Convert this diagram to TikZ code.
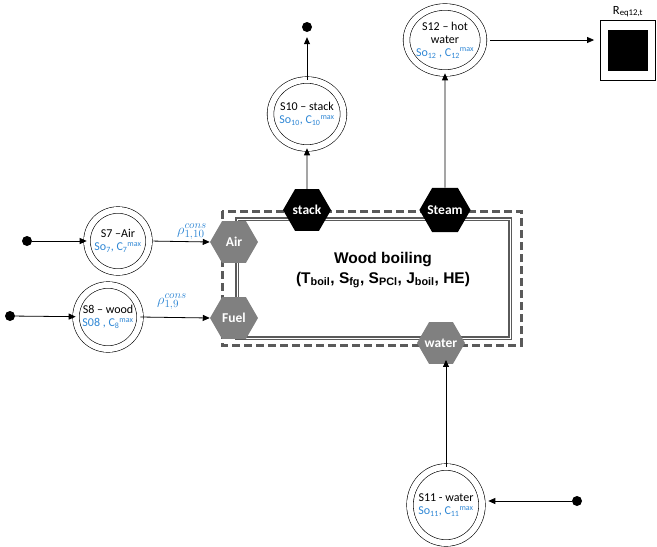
\documentclass[tikz,border=0pt]{standalone}
\usepackage{fontspec}
\setmainfont{Carlito}
\newfontfamily\boilfont{Liberation Sans}
\usetikzlibrary{shapes.geometric,arrows.meta,positioning}
\definecolor{soblue}{RGB}{46,134,212}
\definecolor{hexgray}{RGB}{128,128,128}
\definecolor{framegray}{RGB}{90,90,90}

\begin{document}
\begin{tikzpicture}[x=1pt,y=-1pt,
  stock/.style={ellipse, draw, double, double distance=6pt, line width=0.6pt, inner sep=0pt},
  stocktext/.style={align=center, inner sep=0pt, font=\fontsize{12}{13}\selectfont},
  hexa/.style={regular polygon, regular polygon sides=6, minimum size=48pt, inner sep=-2pt, text=white, font=\bfseries\fontsize{13.5}{14}\selectfont},
  hexGray/.style={hexa, fill=hexgray},
  hexBlack/.style={hexa, fill=black},
  src/.style={circle, fill=black, inner sep=0pt, minimum size=10pt},
  flow/.style={draw, line width=0.8pt, -{Triangle[length=7pt,width=6pt]}},
  rate/.style={text=soblue, inner sep=0pt, font=\fontsize{15}{15}\selectfont}
  ]
  \useasboundingbox (0,0) rectangle (657,547);

  % boiler frame
  \draw[framegray, line width=3pt, dash pattern=on 8pt off 4pt] (222,211) rectangle (521,345);
  \draw[framegray, line width=1.3pt, double=white, double distance=1pt] (237,219) rectangle (510,338);
  \node[font=\boilfont\bfseries\fontsize{15.5}{20}\selectfont, align=center] (boil) at (383,270)
    {Wood boiling\\(T\textsubscript{boil}, S\textsubscript{fg}, S\textsubscript{PCl}, J\textsubscript{boil}, HE)};

  % ports
  \node[hexGray] (air) at (234,242) {Air};
  \node[hexGray] (fuel) at (234,318) {Fuel};
  \node[hexBlack] (stack) at (307,210) {stack};
  \node[hexBlack] (steam) at (445,210) {Steam};
  \node[hexGray] (water) at (441,343) {water};

  % stocks
  \node[stock, minimum width=62pt, minimum height=62pt] (s7) at (118,241) {};
  \node[stocktext] at (s7) {S7 –Air\\\textcolor{soblue}{So\textsubscript{7}, C\textsubscript{7}\textsuperscript{max}}};
  \node[stock, minimum width=64pt, minimum height=64pt] (s8) at (108,317) {};
  \node[stocktext] at (s8) {S8 – wood\\\textcolor{soblue}{S08 , C\textsubscript{8}\textsuperscript{max}}};
  \node[stock, minimum width=73pt, minimum height=68pt] (s10) at (307,114) {};
  \node[stocktext] at (s10) {S10 – stack\\\textcolor{soblue}{So\textsubscript{10}, C\textsubscript{10}\textsuperscript{max}}};
  \node[stock, minimum width=77pt, minimum height=66pt] (s12) at (445,40) {};
  \node[stocktext] at (s12) {S12 – hot\\water\\\textcolor{soblue}{So\textsubscript{12} , C\textsubscript{12}\textsuperscript{max}}};
  \node[stock, minimum width=72pt, minimum height=76pt] (s11) at (446,505) {};
  \node[stocktext] at (s11) {S11 - water\\\textcolor{soblue}{So\textsubscript{11}, C\textsubscript{11}\textsuperscript{max}}};

  % sources and sinks
  \node[src] (in7) at (27,241) {};
  \node[src] (in8) at (10,316) {};
  \node[src] (out10) at (307,27) {};
  \node[src] (in11) at (577,501) {};
  \node[draw, line width=0.8pt, minimum width=55pt, minimum height=60pt, inner sep=0pt,
        label={[font=\fontsize{12.5}{12}\selectfont, inner sep=2pt]above:R\textsubscript{eq12,t}}] (req) at (628,50) {};
  \node[fill=black, minimum width=40pt, minimum height=41pt, inner sep=0pt] (reqin) at (req.center) {};

  % flows
  \draw[flow] (in7) -- (s7);
  \draw[flow, shorten <=4pt] (s7.east) -- (air.west);
  \draw[flow] (in8) -- (s8);
  \draw[flow] (s8.east) -- (fuel.west);
  \draw[flow] (stack.north) -- (s10.south);
  \draw[flow, shorten >=5pt] (s10.north) -- (out10);
  \draw[flow] (steam.north) -- (s12.south);
  \draw[flow, shorten <=6pt, shorten >=6pt] (s12.east) -- (req.west |- s12.east);
  \draw[flow, shorten >=-4pt] (s11.north) -- (s11.north |- water.south);
  \draw[flow, shorten >=6pt] (in11) -- (in11 -| s11.east);

  \node[rate] (r110) at (192,232) {$\rho^{cons}_{1,10}$};
  \node[rate] (r19) at (172,302) {$\rho^{cons}_{1,9}$};
\end{tikzpicture}
\end{document}
